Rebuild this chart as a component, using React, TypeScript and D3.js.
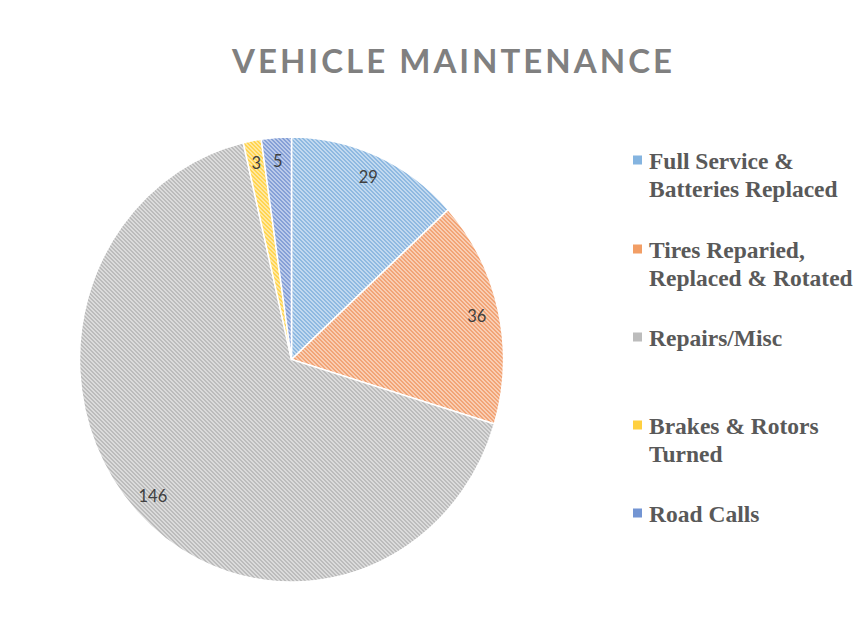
import React from "react";
import * as d3 from "d3";

const categories = [
  "Full Service & Batteries Replaced",
  "Tires Reparied, Replaced & Rotated",
  "Repairs/Misc",
  "Brakes & Rotors Turned",
  "Road Calls",
];
const values = [29, 36, 146, 3, 5];
const legendLines = [
  ["Full Service &", "Batteries Replaced"],
  ["Tires Reparied,", "Replaced & Rotated"],
  ["Repairs/Misc"],
  ["Brakes & Rotors", "Turned"],
  ["Road Calls"],
];
const stripeColors = ["#75a9da", "#ee9058", "#acacac", "#ffc927", "#6a8acd"];
const bgColors = ["#dbe9f6", "#fce2d2", "#ebebeb", "#fff3c9", "#d6e0f3"];
const swatchColors = ["#5B9BD5", "#ED7D31", "#A5A5A5", "#FFC000", "#4472C4"];
const legendY = [160, 249, 337, 425, 513];

const W = 867;
const H = 634;
const cx = 291.5;
const cy = 359.5;
const R = 212;
const SY = 1.05;

export default function App() {
  const pie = d3.pie<number>().sort(null).value((d) => d);
  const arcs = pie(values);
  const arc = d3.arc<d3.PieArcDatum<number>>().innerRadius(0).outerRadius(R);
  const labelArc = d3.arc<d3.PieArcDatum<number>>().innerRadius(190).outerRadius(190);

  return (
    <svg width={W} height={H} style={{ position: "absolute", left: 0, top: 0, background: "#fff" }}>
      <defs>
        {values.map((_, i) => (
          <pattern
            key={i}
            id={`pat${i}`}
            patternUnits="userSpaceOnUse"
            width={4}
            height={4}
            patternTransform={`scale(1, ${1 / SY})`}
          >
            <rect width={4} height={4} fill={bgColors[i]} />
            {[0, 1, 2, 3].map((y) => (
              <g key={y}>
                <rect x={y % 4} y={y} width={1} height={1} fill={stripeColors[i]} />
                <rect x={(y + 1) % 4} y={y} width={1} height={1} fill={stripeColors[i]} />
              </g>
            ))}
          </pattern>
        ))}
      </defs>
      <text
        x={452}
        y={73}
        textAnchor="middle"
        fontFamily="Lato, 'Open Sans', sans-serif"
        fontWeight={700}
        fontSize={33}
        fill="#808080"
        textLength={440}
        lengthAdjust="spacing"
      >
        VEHICLE MAINTENANCE
      </text>
      <g transform={`translate(${cx},${cy}) scale(1,${SY})`}>
        {arcs.map((a, i) => (
          <path key={i} d={arc(a) || ""} fill={`url(#pat${i})`} stroke="#fff" strokeWidth={1.5} />
        ))}
      </g>
      {arcs.map((a, i) => {
        const [lx, ly] = labelArc.centroid(a);
        return (
          <text
            key={i}
            x={cx + lx}
            y={cy + ly * SY}
            textAnchor="middle"
            dominantBaseline="central"
            fontFamily="Lato, 'Open Sans', sans-serif"
            fontSize={16.5}
            fill="#404040"
          >
            {values[i]}
          </text>
        );
      })}
      <g>
        {categories.map((c, i) => (
          <g key={c}>
            <rect x={633} y={legendY[i] - 4.5} width={9} height={9} fill={swatchColors[i]} opacity={0.75} />
            {legendLines[i].map((line, j) => (
              <text
                key={j}
                x={649}
                y={legendY[i] + 8.5 + j * 28}
                fontFamily="'Liberation Serif', 'Times New Roman', serif"
                fontWeight={700}
                fontSize={23.5}
                fill="#595959"
              >
                {line}
              </text>
            ))}
          </g>
        ))}
      </g>
    </svg>
  );
}
